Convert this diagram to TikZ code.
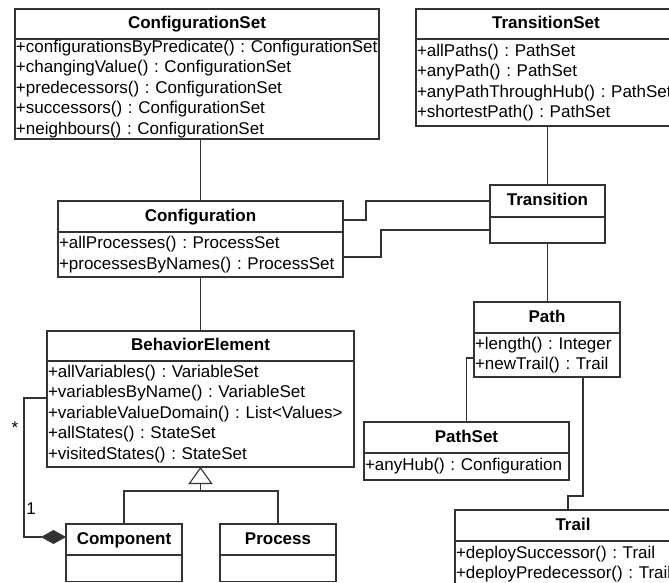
\documentclass[tikz,border=0pt]{standalone}
\usepackage{fontspec}
\setmainfont{Liberation Sans}
\usetikzlibrary{arrows.meta}
\newcommand\umlfont{\fontsize{17}{20.5}\selectfont\frenchspacing\hyphenpenalty=10000\relax}
\tikzset{
	uml/.style={draw=black!80, line width=1.1pt, outer sep=0pt, anchor=north west},
	head/.style={uml, font=\umlfont\bfseries, text height=12.5pt, text depth=3.5pt, inner sep=0pt},
	body/.style={uml, font=\umlfont, align=left, inner xsep=1pt, inner ysep=0pt},
	link/.style={draw=black!80, line width=1.1pt},
	mult/.style={font=\umlfont, inner sep=0pt, anchor=base}
}
\begin{document}
\begin{tikzpicture}[x=1pt, y=-1pt]
		\useasboundingbox (0,0) rectangle (669,583);
		\clip (0,0) rectangle (669,583);
		
		\node[head, minimum width=364pt, minimum height=30pt] (cseth) at (15,9) {ConfigurationSet};
		\node[body, text width=362pt, minimum height=100pt] (csetb) at (cseth.south west)
		{+configurationsByPredicate()~:~ConfigurationSet\\+changingValue()~:~ConfigurationSet\\+predecessors()~:~ConfigurationSet\\+successors()~:~ConfigurationSet\\+neighbours()~:~ConfigurationSet};
		
		\node[head, minimum width=260pt, minimum height=30pt] (tseth) at (416,9) {TransitionSet};
		\node[body, text width=258pt, minimum height=87pt] (tsetb) at (tseth.south west)
		{+allPaths()~:~PathSet\\+anyPath()~:~PathSet\\+anyPathThroughHub()~:~PathSet\\+shortestPath()~:~PathSet};
		
		\node[head, minimum width=285pt, minimum height=31pt] (confh) at (58,201) {Configuration};
		\node[body, text width=283pt, minimum height=45pt] (confb) at (confh.south west)
		{+allProcesses()~:~ProcessSet\\+processesByNames()~:~ProcessSet};
		
		\node[head, minimum width=115pt, minimum height=32pt] (transh) at (490,185) {Transition};
		\node[body, text width=113pt, minimum height=26pt] (transb) at (transh.south west) {};
		
		\node[head, minimum width=146pt, minimum height=31pt] (pathh) at (474,302) {Path};
		\node[body, text width=144pt, minimum height=44pt] (pathb) at (pathh.south west)
		{+length()~:~Integer\\+newTrail()~:~Trail};
		
		\node[head, minimum width=205pt, minimum height=31pt] (pseth) at (364,422) {PathSet};
		\node[body, text width=203pt, minimum height=27pt] (psetb) at (pseth.south west)
		{+anyHub()~:~Configuration};
		
		\node[head, minimum width=236pt, minimum height=31pt] (trailh) at (455,510) {Trail};
		\node[body, text width=234pt, minimum height=46pt] (trailb) at (trailh.south west)
		{+deploySuccessor()~:~Trail\\+deployPredecessor()~:~Trail};
		
		\node[head, minimum width=307pt, minimum height=30pt] (belemh) at (47,331) {BehaviorElement};
		\node[body, text width=305pt, minimum height=106pt] (belemb) at (belemh.south west)
		{+allVariables()~:~VariableSet\\+variablesByName()~:~VariableSet\\+variableValueDomain()~:~List<Values>\\+allStates()~:~StateSet\\+visitedStates()~:~StateSet};
		
		\node[head, minimum width=116pt, minimum height=31pt] (comph) at (66,524) {Component};
		\node[body, text width=114pt, minimum height=26.5pt] (compb) at (comph.south west) {};
		
		\node[head, minimum width=116pt, minimum height=31pt] (proch) at (220,524) {Process};
		\node[body, text width=114pt, minimum height=26.5pt] (procb) at (proch.south west) {};
		
		\draw[link] (confh.north) -- (confh.north |- csetb.south);
		\draw[link] (confb.south) -- (belemh.north);
		\draw[link] (transh.north) -- (transh.north |- tsetb.south);
		\draw[link] (transb.south) -- (transb.south |- pathh.north);
		\draw[link] ([yshift=-3.5pt]confh.east) -- ++(23,0) |- (transh.west);
		\draw[link] ([yshift=-2.5pt]confb.east) -- ++(38,0) |- (transb.west);
		\draw[link] ([yshift=-3pt]pathb.west) -| (pseth.north);
		
		\coordinate (tbend) at (568,496);
		\draw[link] ([xshift=-37pt]pathb.south east) |- (tbend) -- (tbend |- trailh.north);
		
		\coordinate (gen) at (200.5,491);
		\draw[link] (comph.north) |- (gen) -| (proch.north);
		\draw[link, -{Triangle[open, length=17pt, width=24pt]}] (gen) -- (belemb.south);
		
		\draw[link, -{Diamond[length=25pt, width=14pt]}] ([yshift=16pt]belemb.west) -- ++(-23,0) |- ([yshift=2.5pt]comph.west);
		\node[mult] (many) at (15,433) {*};
		\node[mult] (one) at (31,514) {1};
\end{tikzpicture}
\end{document}
